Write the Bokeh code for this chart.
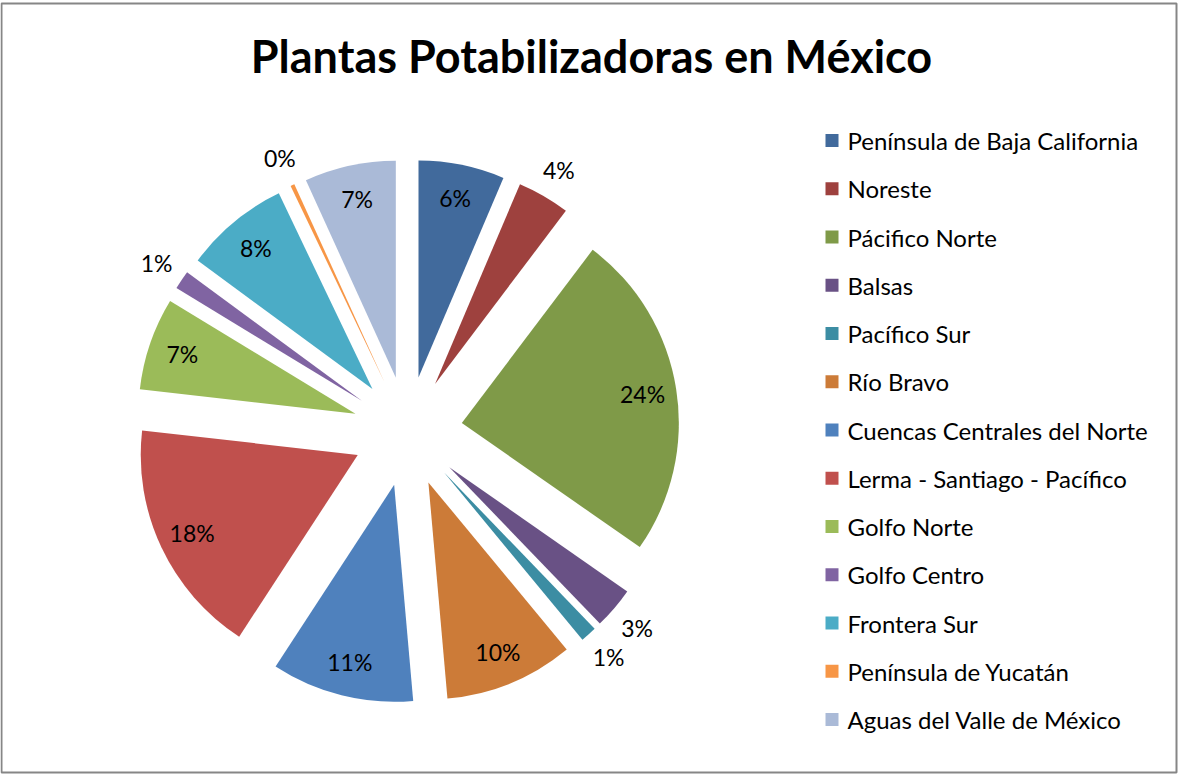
import math
from bokeh.plotting import figure
from bokeh.models import Range1d, ColumnDataSource
from bokeh.core.properties import value
from bokeh.embed import file_html
from bokeh.resources import INLINE

# ---- data ----
regions = ["Península de Baja California", "Noreste", "Pácifico Norte", "Balsas",
           "Pacífico Sur", "Río Bravo", "Cuencas Centrales del Norte",
           "Lerma - Santiago - Pacífico", "Golfo Norte", "Golfo Centro",
           "Frontera Sur", "Península de Yucatán", "Aguas del Valle de México"]
shares = [6.4, 3.9, 24.4, 3.1, 1.2, 9.6, 10.6, 17.6, 6.9, 1.4, 7.8, 0.3, 6.8]
colors = ["#416A9C", "#9E413E", "#7F9A48", "#695185", "#3C8DA3", "#CC7B38",
          "#4F81BD", "#C0504D", "#9BBB59", "#8064A2", "#4BACC6", "#F79646",
          "#AABAD7"]
title_text = "Plantas Potabilizadoras en México"

W, H = 1178, 774
FONT = "Lato"

p = figure(width=W, height=H, output_backend="svg", toolbar_location=None,
           x_range=Range1d(0, W), y_range=Range1d(0, H), min_border=0)
p.axis.visible = False
p.grid.visible = False
p.outline_line_color = None
p.background_fill_color = "white"
p.border_fill_color = "white"

# frame border
p.quad(left=[1], right=[1176], bottom=[H - 772], top=[H - 3],
       fill_color=None, line_color="#868686", line_width=2)

# pie geometry (pixel units)
cx, cy = 407, H - 431
R = 217
explode = 55

total = sum(shares)
xs, ys, starts, ends = [], [], [], []
lx, ly, ltxt = [], [], []
cum = 0.0
for s in shares:
    a = cum / total
    b = (cum + s) / total
    cum += s
    mid = 2 * math.pi * (a + b) / 2
    ax = cx + explode * math.sin(mid)
    ay = cy + explode * math.cos(mid)
    xs.append(ax)
    ys.append(ay)
    starts.append(math.pi / 2 - 2 * math.pi * b)
    ends.append(math.pi / 2 - 2 * math.pi * a)
    pct = s / total * 100
    dist = 183 if pct >= 5 else 247
    lx.append(ax + dist * math.sin(mid))
    ly.append(ay + dist * math.cos(mid))
    ltxt.append(f"{round(pct)}%")

src = ColumnDataSource(dict(x=xs, y=ys, start=starts, end=ends, color=colors))
p.wedge(x="x", y="y", radius=R, start_angle="start", end_angle="end",
        direction="anticlock", fill_color="color", line_color=None, source=src)

p.text(x=lx, y=ly, text=ltxt, text_align="center", text_baseline="middle",
       text_font=value(FONT), text_font_size="23px", text_color="black")

# title
p.text(x=[591], y=[H - 55], text=[title_text], text_align="center",
       text_baseline="middle", text_font=value(FONT), text_font_size="45px",
       text_font_style="bold", text_color="black")

# legend
ly0, step = 140, 48.25
leg_y = [H - (ly0 + i * step) for i in range(len(regions))]
p.rect(x=[831.5] * len(regions), y=leg_y, width=13, height=13,
       fill_color=colors, line_color=None)
p.text(x=[847] * len(regions), y=leg_y, text=regions, text_align="left",
       text_baseline="middle", text_font=value(FONT), text_font_size="24px",
       text_color="black")

open("out.html", "w").write(file_html(p, INLINE))
